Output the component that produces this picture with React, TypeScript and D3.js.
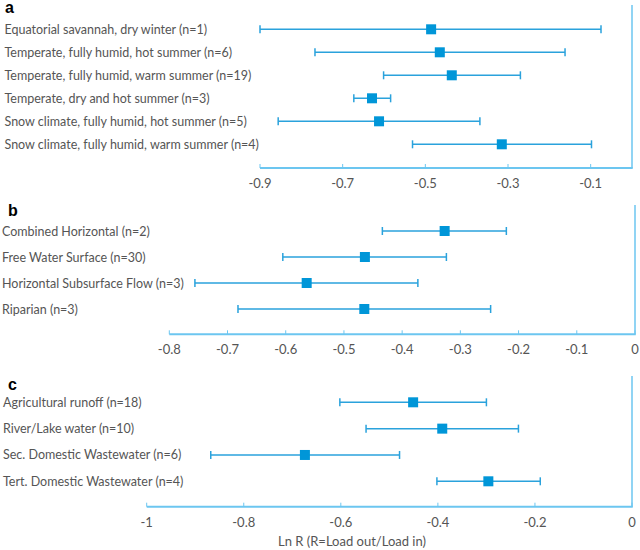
import React from "react";
import * as d3 from "d3";

const catA = [
  "Equatorial savannah, dry winter (n=1)",
  "Temperate, fully humid, hot summer (n=6)",
  "Temperate, fully humid, warm summer (n=19)",
  "Temperate, dry and hot summer (n=3)",
  "Snow climate, fully humid, hot summer (n=5)",
  "Snow climate, fully humid, warm summer (n=4)",
];
const meanA = [-0.486, -0.465, -0.436, -0.629, -0.612, -0.315];
const lowA = [-0.9, -0.767, -0.601, -0.673, -0.856, -0.531];
const highA = [-0.075, -0.162, -0.27, -0.584, -0.368, -0.098];
const ticksA = [-0.9, -0.7, -0.5, -0.3, -0.1];

const catB = [
  "Combined Horizontal (n=2)",
  "Free Water Surface (n=30)",
  "Horizontal Subsurface Flow (n=3)",
  "Riparian (n=3)",
];
const meanB = [-0.327, -0.464, -0.564, -0.465];
const lowB = [-0.434, -0.605, -0.756, -0.682];
const highB = [-0.221, -0.324, -0.373, -0.248];
const ticksB = [-0.8, -0.7, -0.6, -0.5, -0.4, -0.3, -0.2, -0.1, 0];

const catC = [
  "Agricultural runoff (n=18)",
  "River/Lake water (n=10)",
  "Sec. Domestic Wastewater (n=6)",
  "Tert. Domestic Wastewater (n=4)",
];
const meanC = [-0.451, -0.391, -0.674, -0.296];
const lowC = [-0.602, -0.548, -0.868, -0.402];
const highC = [-0.3, -0.234, -0.479, -0.189];
const ticksC = [-1, -0.8, -0.6, -0.4, -0.2, 0];

const FONT = "Lato, 'Open Sans', sans-serif";
const LINE = "#2aa2dc";
const MARK = "#0096d8";
const AXIS = "#6cc6f0";
const TEXT = "#555555";
const FS = 12.5;

type PanelProps = {
  letter: string;
  letterX: number;
  letterY: number;
  cats: string[];
  mean: number[];
  low: number[];
  high: number[];
  ticks: number[];
  domain: [number, number];
  x0: number;
  x1: number;
  rowTop: number;
  rowBottom: number;
  axisY: number;
  topY: number;
  labelX: number;
};

function Panel(p: PanelProps) {
  const x = d3.scaleLinear().domain(p.domain).range([p.x0, p.x1]);
  const y = d3.scalePoint<number>().domain(p.cats.map((_, i) => i)).range([p.rowTop, p.rowBottom]);
  const fmt = (v: number) => (v === 0 ? "0" : String(+v.toFixed(2)));
  return (
    <g>
      <text x={p.letterX} y={p.letterY} fontFamily="'Liberation Sans', Arial, sans-serif" fontWeight="bold" fontSize={16} fill="#000">
        {p.letter}
      </text>
      <line x1={p.x1} x2={p.x1} y1={p.topY} y2={p.axisY} stroke={AXIS} strokeWidth={1.5} />
      <line x1={p.x0} x2={p.x1 + 0.75} y1={p.axisY} y2={p.axisY} stroke={AXIS} strokeWidth={2} />
      {p.ticks.map((t) => (
        <g key={t}>
          <line x1={x(t)} x2={x(t)} y1={p.axisY - 4} y2={p.axisY} stroke={AXIS} strokeWidth={1} />
          <text x={x(t)} y={p.axisY + 20} textAnchor="middle" fontFamily={FONT} fontSize={13} fill={TEXT}>
            {fmt(t)}
          </text>
        </g>
      ))}
      {p.cats.map((c, i) => {
        const yy = y(i)!;
        return (
          <g key={c}>
            <text x={p.labelX} y={yy + 4.5} fontFamily={FONT} fontSize={FS} fill={TEXT}>
              {c}
            </text>
            <line x1={x(p.low[i])} x2={x(p.high[i])} y1={yy} y2={yy} stroke={LINE} strokeWidth={1.5} />
            <line x1={x(p.low[i])} x2={x(p.low[i])} y1={yy - 4} y2={yy + 4} stroke={LINE} strokeWidth={1.5} />
            <line x1={x(p.high[i])} x2={x(p.high[i])} y1={yy - 4} y2={yy + 4} stroke={LINE} strokeWidth={1.5} />
            <rect x={x(p.mean[i]) - 5} y={yy - 5} width={10} height={10} fill={MARK} />
          </g>
        );
      })}
    </g>
  );
}

export default function App() {
  return (
    <svg width={640} height={550} style={{ position: "absolute", left: 0, top: 0, background: "#fff" }}>
      <Panel
        letter="a" letterX={5} letterY={13}
        cats={catA} mean={meanA} low={lowA} high={highA} ticks={ticksA}
        domain={[-0.9, 0]} x0={260} x1={632}
        rowTop={29.3} rowBottom={144.3} axisY={168} topY={5} labelX={4.5}
      />
      <Panel
        letter="b" letterX={8} letterY={216}
        cats={catB} mean={meanB} low={lowB} high={highB} ticks={ticksB}
        domain={[-0.8, 0]} x0={169.3} x1={635}
        rowTop={231} rowBottom={309} axisY={334.3} topY={205} labelX={2}
      />
      <Panel
        letter="c" letterX={8} letterY={390}
        cats={catC} mean={meanC} low={lowC} high={highC} ticks={ticksC}
        domain={[-1, 0]} x0={146.7} x1={632}
        rowTop={402.3} rowBottom={481.3} axisY={506.7} topY={376} labelX={3}
      />
      <text x={278} y={546} fontFamily={FONT} fontSize={13} fill={TEXT}>
        Ln R (R=Load out/Load in)
      </text>
    </svg>
  );
}
